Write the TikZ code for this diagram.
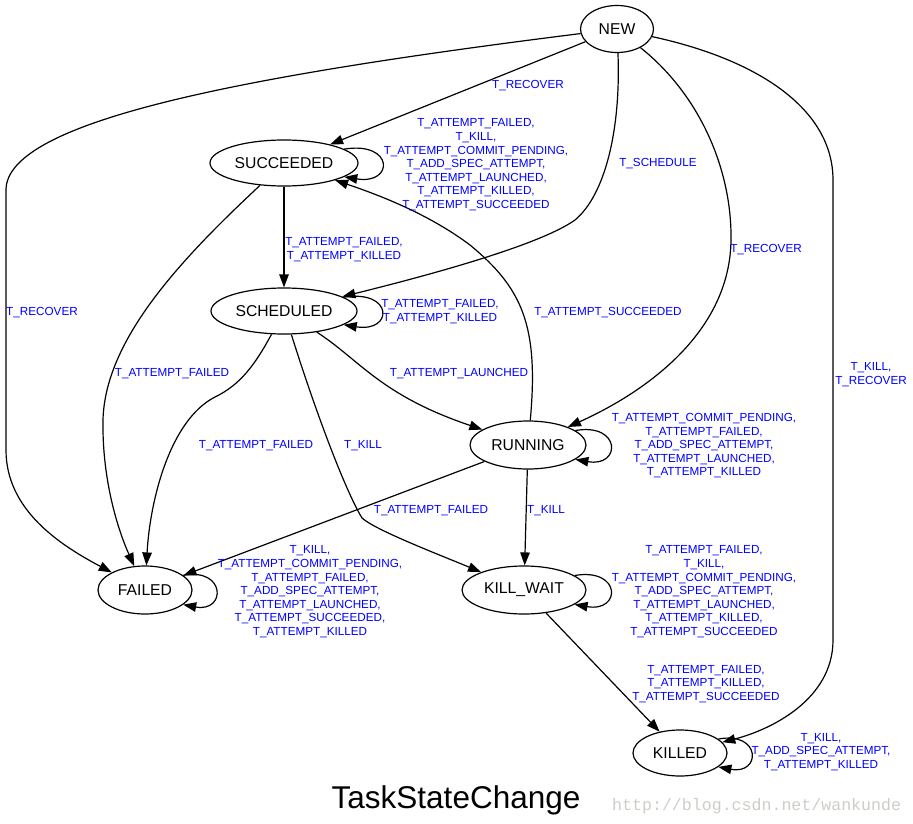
\documentclass[tikz,border=0pt]{standalone}
\usepackage{fontspec}
\setmainfont{Liberation Sans}
\newfontfamily\wmfont{Liberation Mono}
\usetikzlibrary{shapes.geometric,arrows.meta}
\definecolor{wmgray}{RGB}{205,205,200}
\begin{document}
\begin{tikzpicture}[x=1pt,y=-1pt,
  state/.style={ellipse,draw,line width=1.2pt,inner sep=0pt,font=\fontsize{15.7}{18}\selectfont},
  edge/.style={draw,line width=1.2pt,-{Triangle[length=13pt,width=9.5pt]}},
  lbl/.style={text=blue,font=\fontsize{11.7}{13.6}\selectfont,align=center,inner sep=0pt,yshift=-1.8pt},
]
\useasboundingbox (0,0) rectangle (913,824);

% states
\node[state,minimum width=73pt,minimum height=47pt] (new) at (617,29) {NEW};
\node[state,minimum width=148pt,minimum height=46pt] (succ) at (284,163) {SUCCEEDED};
\node[state,minimum width=146pt,minimum height=46pt] (sched) at (284,311) {SCHEDULED};
\node[state,minimum width=116pt,minimum height=48pt] (run) at (528,445) {RUNNING};
\node[state,minimum width=94pt,minimum height=48pt] (failed) at (145,590) {FAILED};
\node[state,minimum width=124pt,minimum height=48pt] (kw) at (524,590) {KILL\_WAIT};
\node[state,minimum width=94pt,minimum height=46pt] (killed) at (680,753) {KILLED};

% edges from NEW
\draw[edge] (new) -- (succ);
\draw[edge] (new) .. controls (250,75) and (6,120) .. (6,190) -- (6,450)
  .. controls (6,510) and (60,545) .. (failed);
\draw[edge] (new) .. controls (621,130) and (605,195) .. (575,220)
  .. controls (540,245) and (430,275) .. (sched);
\draw[edge] (new) .. controls (700,95) and (732,170) .. (731,240)
  .. controls (730,330) and (650,390) .. (run);
\draw[edge] (new) .. controls (760,60) and (833,110) .. (833,180) -- (833,640)
  .. controls (833,700) and (770,730) .. (killed);

% SUCCEEDED
\draw[edge] (succ.13) .. controls +(50,-8) and +(50,8) .. (succ.-13);
\draw[edge] (succ) -- (sched);
\draw[edge] (succ) .. controls (180,260) and (105,340) .. (103,420)
  .. controls (102,480) and (118,530) .. (failed);

% SCHEDULED
\draw[edge] (sched.13) .. controls +(50,-8) and +(50,8) .. (sched.-13);
\draw[edge] (sched) .. controls (360,360) and (380,395) .. (run);
\draw[edge] (sched) .. controls (255,365) and (240,385) .. (215,397)
  .. controls (170,420) and (150,500) .. (failed);
\draw[edge] (sched) .. controls (315,410) and (345,490) .. (362,518)
  .. controls (375,530) and (440,555) .. (kw);

% RUNNING
\draw[edge] (run.17) .. controls +(46,-8) and +(46,8) .. (run.-17);
\draw[edge] (run) .. controls (539,325) and (522,288) .. (470,245)
  .. controls (430,215) and (382,196) .. (succ);
\draw[edge] (run) -- (failed);
\draw[edge] (run) -- (kw);

% FAILED, KILL_WAIT, KILLED
\draw[edge] (failed.21) .. controls +(43,-8) and +(43,8) .. (failed.-21);
\draw[edge] (kw.16) .. controls +(47,-8) and +(47,8) .. (kw.-16);
\draw[edge] (kw) -- (killed);
\draw[edge] (killed.20) .. controls +(43,-8) and +(43,8) .. (killed.-20);

% labels
\node[lbl] (l1) at (528,84) {T\_RECOVER};
\node[lbl] (l2) at (476,163) {T\_ATTEMPT\_FAILED,\\T\_KILL,\\T\_ATTEMPT\_COMMIT\_PENDING,\\T\_ADD\_SPEC\_ATTEMPT,\\T\_ATTEMPT\_LAUNCHED,\\T\_ATTEMPT\_KILLED,\\T\_ATTEMPT\_SUCCEEDED};
\node[lbl] (l3) at (658,162) {T\_SCHEDULE};
\node[lbl] (l4) at (766,248) {T\_RECOVER};
\node[lbl] (l5) at (344,248) {T\_ATTEMPT\_FAILED,\\T\_ATTEMPT\_KILLED};
\node[lbl] (l6) at (440,310) {T\_ATTEMPT\_FAILED,\\T\_ATTEMPT\_KILLED};
\node[lbl] (l7) at (608,311) {T\_ATTEMPT\_SUCCEEDED};
\node[lbl] (l8) at (42,311) {T\_RECOVER};
\node[lbl] (l9) at (871,373) {T\_KILL,\\T\_RECOVER};
\node[lbl] (l10) at (172,372) {T\_ATTEMPT\_FAILED};
\node[lbl] (l11) at (459,372) {T\_ATTEMPT\_LAUNCHED};
\node[lbl] (l12) at (256,444) {T\_ATTEMPT\_FAILED};
\node[lbl] (l13) at (363,444) {T\_KILL};
\node[lbl] (l14) at (704,444) {T\_ATTEMPT\_COMMIT\_PENDING,\\T\_ATTEMPT\_FAILED,\\T\_ADD\_SPEC\_ATTEMPT,\\T\_ATTEMPT\_LAUNCHED,\\T\_ATTEMPT\_KILLED};
\node[lbl] (l15) at (431,509) {T\_ATTEMPT\_FAILED};
\node[lbl] (l16) at (546,509) {T\_KILL};
\node[lbl] (l17) at (310,590) {T\_KILL,\\T\_ATTEMPT\_COMMIT\_PENDING,\\T\_ATTEMPT\_FAILED,\\T\_ADD\_SPEC\_ATTEMPT,\\T\_ATTEMPT\_LAUNCHED,\\T\_ATTEMPT\_SUCCEEDED,\\T\_ATTEMPT\_KILLED};
\node[lbl] (l18) at (704,590) {T\_ATTEMPT\_FAILED,\\T\_KILL,\\T\_ATTEMPT\_COMMIT\_PENDING,\\T\_ADD\_SPEC\_ATTEMPT,\\T\_ATTEMPT\_LAUNCHED,\\T\_ATTEMPT\_KILLED,\\T\_ATTEMPT\_SUCCEEDED};
\node[lbl] (l19) at (706,682) {T\_ATTEMPT\_FAILED,\\T\_ATTEMPT\_KILLED,\\T\_ATTEMPT\_SUCCEEDED};
\node[lbl] (l20) at (821,750) {T\_KILL,\\T\_ADD\_SPEC\_ATTEMPT,\\T\_ATTEMPT\_KILLED};

% title and watermark
\node[font=\fontsize{31.5}{36}\selectfont,anchor=base,inner sep=0pt] (title) at (456,808) {TaskStateChange};
\node[font=\wmfont\fontsize{16.6}{20}\selectfont,text=wmgray,anchor=base west,inner sep=0pt] (wm) at (612,810) {http://blog.csdn.net/wankunde};
\end{tikzpicture}
\end{document}
